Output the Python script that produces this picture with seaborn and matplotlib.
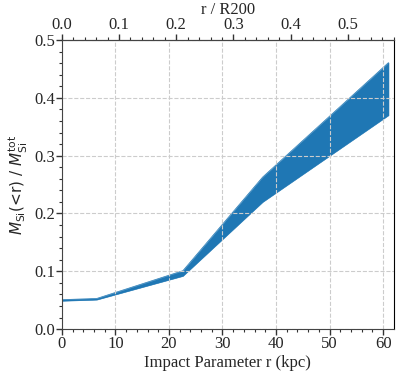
import matplotlib
matplotlib.use("Agg")
import matplotlib.pyplot as plt
import seaborn as sns
import numpy as np

# impact parameter (kpc) and enclosed Si mass fraction band
r_kpc = [0.0, 6.5, 22.6, 37.5, 61.0]
frac_lo = [0.049, 0.051, 0.092, 0.220, 0.370]
frac_hi = [0.051, 0.053, 0.101, 0.263, 0.461]
R200 = 106.8  # kpc

sns.set_style("ticks")
plt.rcParams['font.family'] = ['Liberation Serif', 'DejaVu Serif']
plt.rcParams['mathtext.fontset'] = 'dejavusans'
plt.rcParams['axes.axisbelow'] = 'line'

fig = plt.figure(figsize=(4.15, 3.74), dpi=100)
ax = fig.add_axes([0.149, 0.120, 0.800, 0.773])

ax.fill_between(r_kpc, frac_lo, frac_hi, color='#1f77b4', lw=0.4, zorder=1)
sns.lineplot(x=r_kpc, y=frac_lo, ax=ax, color='#1f77b4', lw=0.5, zorder=1)
sns.lineplot(x=r_kpc, y=frac_hi, ax=ax, color='#1f77b4', lw=0.5, zorder=1)

ax.set_xlim(0, 62)
ax.set_ylim(0, 0.5)
ax.set_xticks(np.arange(0, 61, 10))
ax.set_xticks(np.arange(0, 62, 2), minor=True)
ax.set_yticks(np.arange(0, 0.51, 0.1))
ax.set_yticks(np.arange(0, 0.51, 0.02), minor=True)
ax.grid(True, which='major', ls='--', color='#cccccc', lw=0.8)

ax.set_xlabel('Impact Parameter r (kpc)', fontsize=12, labelpad=2)
ax.set_ylabel(r'$M_{\rm Si}$(<r) / $M_{\rm Si}^{\rm tot}$', fontsize=11,
              labelpad=3, family='DejaVu Sans')
ax.tick_params(axis='both', which='major', labelsize=12, length=4,
               width=1, color='#333333', pad=1)
ax.tick_params(axis='both', which='minor', length=2, width=0.8,
               color='#333333')
for s in ['left', 'bottom', 'top']:
    ax.spines[s].set_color('#444444')
ax.spines['right'].set_color('black')

top = ax.secondary_xaxis('top', functions=(lambda x: x / R200,
                                           lambda x: x * R200))
top.set_xticks(np.arange(0, 0.6, 0.1))
top.set_xticks(np.arange(0, 0.59, 0.02), minor=True)
top.set_xlabel('r / R200', fontsize=12, labelpad=2)
top.tick_params(axis='x', which='major', labelsize=12, length=4,
                width=1, color='#333333', pad=1)
top.tick_params(axis='x', which='minor', length=2, width=0.8,
                color='#333333')

fig.savefig('out.png', dpi=100)
